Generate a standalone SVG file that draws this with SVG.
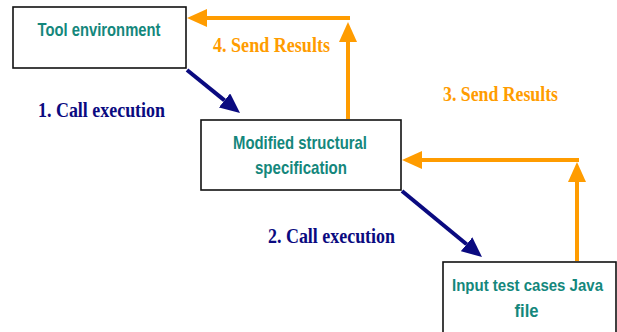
<svg xmlns="http://www.w3.org/2000/svg" width="617" height="332" viewBox="0 0 617 332">
<style>
.box{fill:#fff;stroke:#111;stroke-width:1.6}
.nt{font-family:"Liberation Sans",Arial,sans-serif;font-weight:bold;font-size:19px;fill:#14877c;text-anchor:middle}
.lb{font-family:"Liberation Serif","Times New Roman",serif;font-weight:bold;font-size:22px}
.or{fill:#ff9c00}
.nv{fill:#0a0a80}
.ol{stroke:#ff9c00;stroke-width:4;fill:none}
.nl{stroke:#0a0a80;stroke-width:4;fill:none}
</style>
<defs>
<marker id="ho" markerUnits="userSpaceOnUse" markerWidth="20" markerHeight="18" refX="0" refY="9" orient="auto" viewBox="0 0 20 18"><path d="M0,0 L20,9 L0,18 z" fill="#ff9c00"/></marker>
<marker id="hn" markerUnits="userSpaceOnUse" markerWidth="20" markerHeight="18" refX="0" refY="9" orient="auto" viewBox="0 0 20 18"><path d="M0,0 L20,9 L0,18 z" fill="#0a0a80"/></marker>
</defs>
<rect width="617" height="332" fill="#fff"/>
<g id="connectors">
<line class="nl" x1="187" y1="70" x2="224.5" y2="100.4" marker-end="url(#hn)"/>
<line class="nl" x1="402" y1="191" x2="466.6" y2="244.3" marker-end="url(#hn)"/>
<line class="ol" x1="348" y1="119" x2="348" y2="42" marker-end="url(#ho)"/>
<line class="ol" x1="350" y1="18" x2="207" y2="18" marker-end="url(#ho)"/>
<line class="ol" x1="577" y1="261" x2="577" y2="182" marker-end="url(#ho)"/>
<line class="ol" x1="579" y1="160" x2="422" y2="160" marker-end="url(#ho)"/>
<text class="lb or" x="213" y="52" textLength="117" lengthAdjust="spacingAndGlyphs">4. Send Results</text>
<text class="lb nv" x="38" y="117" textLength="127" lengthAdjust="spacingAndGlyphs">1. Call execution</text>
<text class="lb or" x="443" y="101" textLength="115" lengthAdjust="spacingAndGlyphs">3. Send Results</text>
<text class="lb nv" x="268" y="243" textLength="127" lengthAdjust="spacingAndGlyphs">2. Call execution</text>
</g>
<g id="tool-environment">
<rect class="box" x="13" y="7" width="173" height="61"/>
<text class="nt" x="99" y="36" textLength="123" lengthAdjust="spacingAndGlyphs">Tool environment</text>
</g>
<g id="modified-structural-specification">
<rect class="box" x="201" y="120" width="200" height="70"/>
<text class="nt" x="300" y="149" textLength="134" lengthAdjust="spacingAndGlyphs">Modified structural</text>
<text class="nt" x="301" y="174" textLength="92" lengthAdjust="spacingAndGlyphs">specification</text>
</g>
<g id="input-test-cases">
<rect class="box" x="443" y="262" width="173" height="74"/>
<text class="nt" x="527.5" y="291" style="font-size:17px" textLength="151" lengthAdjust="spacingAndGlyphs">Input test cases Java</text>
<text class="nt" x="526.5" y="317" textLength="24" lengthAdjust="spacingAndGlyphs">file</text>
</g>
</svg>
